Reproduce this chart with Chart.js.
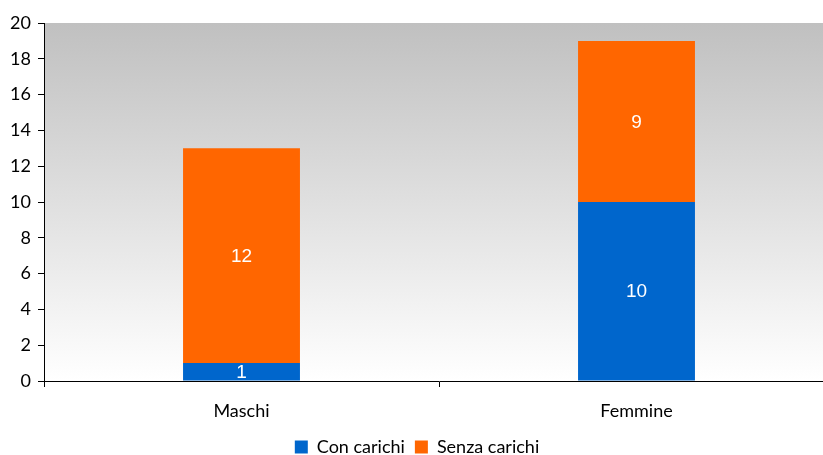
<!DOCTYPE html>
<html>
<head>
<meta charset="utf-8">
<script src="https://cdn.jsdelivr.net/npm/chart.js@4"></script>
<style>
  html, body { margin: 0; padding: 0; background: #fff; overflow: hidden; }
  /* l'area del grafico esce a destra come nell'originale */
  #wrap { width: 823px; height: 455px; overflow: hidden; }
</style>
</head>
<body>
<div id="wrap"><canvas id="chart1" width="834" height="455"></canvas></div>
<script>
// dati
const categories = ['Maschi', 'Femmine'];
const conCarichi = [1, 10];
const senzaCarichi = [12, 9];
const yTicks = [0, 2, 4, 6, 8, 10, 12, 14, 16, 18, 20];

const axisFont = { family: 'Lato, "Open Sans", sans-serif', size: 18 };

// sfondo sfumato dell'area del grafico
const bgGradient = {
  id: 'bgGradient',
  beforeDraw(chart) {
    const { ctx, chartArea: a } = chart;
    const g = ctx.createLinearGradient(0, a.top, 0, a.bottom);
    g.addColorStop(0, '#c0c0c0');
    g.addColorStop(1, '#ffffff');
    ctx.save();
    ctx.fillStyle = g;
    ctx.fillRect(a.left, a.top, a.right - a.left, a.bottom - a.top);
    ctx.restore();
  }
};

// etichette dei valori dentro le barre
const valueLabels = {
  id: 'valueLabels',
  afterDatasetsDraw(chart) {
    const ctx = chart.ctx;
    ctx.save();
    ctx.fillStyle = '#ffffff';
    ctx.font = '19px "Liberation Sans", Arial, sans-serif';
    ctx.textAlign = 'center';
    ctx.textBaseline = 'middle';
    chart.data.datasets.forEach((ds, i) => {
      chart.getDatasetMeta(i).data.forEach((bar, j) => {
        const p = bar.getProps(['x', 'y', 'base'], true);
        ctx.fillText(String(ds.data[j]), p.x, (p.y + p.base) / 2 + 1);
      });
    });
    ctx.restore();
  }
};

const ctx = document.getElementById('chart1').getContext('2d');
new Chart(ctx, {
  type: 'bar',
  data: {
    labels: categories,
    datasets: [
      { label: 'Con carichi', data: conCarichi, backgroundColor: '#0066cc' },
      { label: 'Senza carichi', data: senzaCarichi, backgroundColor: '#ff6600' }
    ]
  },
  options: {
    animation: false,
    responsive: false,
    layout: { padding: { top: 23, right: 0, left: 0, bottom: -11 } },
    datasets: { bar: { barPercentage: 0.296, categoryPercentage: 1 } },
    scales: {
      x: {
        stacked: true,
        border: { color: '#000', width: 1 },
        grid: { drawOnChartArea: false, color: '#000', tickLength: 6, offset: true },
        ticks: { color: '#000', font: axisFont, padding: 13 },
        afterFit(scale) { scale.height = 47; }
      },
      y: {
        stacked: true,
        min: 0,
        max: 20,
        border: { color: '#000', width: 1 },
        grid: { drawOnChartArea: false, color: '#000', tickLength: 6 },
        ticks: { color: '#000', font: axisFont, stepSize: 2, padding: 7 },
        afterBuildTicks(scale) { scale.ticks = yTicks.map(v => ({ value: v })); },
        afterFit(scale) { scale.width = 44; }
      }
    },
    plugins: {
      legend: {
        position: 'bottom',
        labels: {
          color: '#000',
          font: axisFont,
          boxWidth: 13,
          boxHeight: 13,
          padding: 10
        }
      },
      tooltip: { enabled: false }
    }
  },
  plugins: [bgGradient, valueLabels]
});
</script>
</body>
</html>
